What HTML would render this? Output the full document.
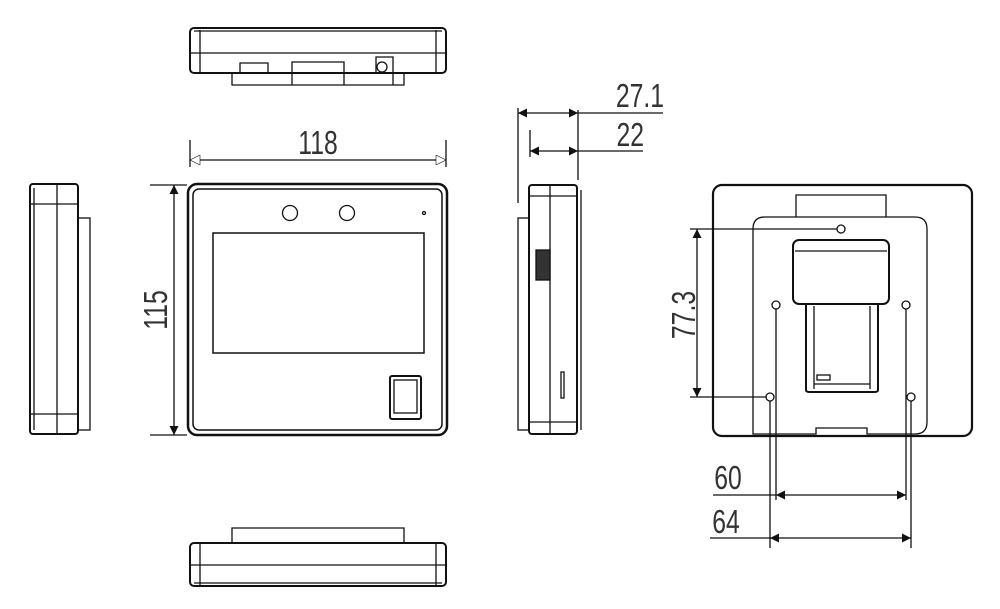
<!DOCTYPE html>
<html><head><style>html,body{margin:0;padding:0;background:#fff}svg{display:block}text{font-family:"Liberation Sans",sans-serif;font-size:33px;fill:#333}</style></head><body>
<svg width="1000" height="609" viewBox="0 0 1000 609" xmlns="http://www.w3.org/2000/svg" fill="none" stroke="#111" stroke-width="1.3">
<defs>
<marker id="af" viewBox="0 0 10 10" refX="10" refY="5" markerWidth="22" markerHeight="9" markerUnits="userSpaceOnUse" orient="auto-start-reverse"><path d="M0,0L10,5L0,10z" fill="#111" stroke="none"/></marker>
<marker id="ao" viewBox="0 0 10 10" refX="10" refY="5" markerWidth="22" markerHeight="10" markerUnits="userSpaceOnUse" orient="auto-start-reverse"><path d="M0,0L10,5L0,10z" fill="#fff" stroke="#111" stroke-width="0.6"/></marker>
</defs>
<!-- top view -->
<rect x="190" y="28" width="256" height="45" rx="4" stroke-width="2"/>
<line x1="194" y1="31" x2="442" y2="31"/>
<line x1="190" y1="53" x2="446" y2="53"/>
<line x1="200" y1="30" x2="200" y2="73"/><line x1="436" y1="30" x2="436" y2="73"/>
<path d="M232 73V85H404V73"/>
<path d="M240 73V63H268V73M292 73V62H344V73M292 85V73M344 85V73M376 73V57H393V85"/>
<circle cx="382" cy="67" r="5"/>
<!-- 118 -->
<line x1="190" y1="140" x2="190" y2="167"/><line x1="446" y1="140" x2="446" y2="167"/>
<line x1="190" y1="160" x2="446" y2="160" marker-start="url(#ao)" marker-end="url(#ao)"/>
<text x="0" y="0" text-anchor="middle" stroke="none" transform="translate(318 154) scale(0.75 1)">118</text>
<!-- left side -->
<rect x="30" y="184" width="48" height="250" rx="3" stroke-width="2"/>
<line x1="34" y1="188" x2="34" y2="430"/>
<line x1="30" y1="204" x2="78" y2="204"/><line x1="30" y1="414" x2="78" y2="414"/>
<line x1="57" y1="184" x2="57" y2="434"/>
<rect x="78" y="218" width="12" height="212"/>
<!-- front -->
<rect x="188" y="184" width="259" height="251" rx="9" stroke-width="2.5"/>
<rect x="193" y="189" width="249" height="241" rx="6" stroke-width="1.5"/>
<rect x="213" y="233" width="211" height="120" stroke-width="1.5"/>
<circle cx="290" cy="213" r="7.5"/><circle cx="347" cy="213" r="7.5"/><circle cx="424" cy="213" r="1.5"/>
<rect x="390" y="376" width="31" height="43" rx="2" stroke-width="2"/>
<rect x="394" y="380" width="23" height="33"/>
<!-- 115 -->
<line x1="150" y1="185" x2="187" y2="185"/><line x1="150" y1="435" x2="187" y2="435"/>
<line x1="174" y1="185" x2="174" y2="435" marker-start="url(#af)" marker-end="url(#af)"/>
<text x="0" y="0" text-anchor="middle" stroke="none" transform="translate(167 310) rotate(-90) scale(0.75 1)">115</text>
<!-- bottom view -->
<rect x="190" y="543" width="256" height="43" rx="4" stroke-width="2"/>
<line x1="190" y1="565" x2="446" y2="565"/><line x1="194" y1="583" x2="442" y2="583"/>
<line x1="200" y1="543" x2="200" y2="586"/><line x1="436" y1="543" x2="436" y2="586"/>
<path d="M232 543V528H404V543"/>
<!-- right side -->
<rect x="529" y="185" width="48" height="249" rx="3" stroke-width="2"/>
<line x1="529" y1="196" x2="577" y2="196"/><line x1="529" y1="422" x2="577" y2="422"/>
<line x1="550" y1="185" x2="550" y2="434"/>
<rect x="518" y="218" width="11" height="212"/>
<line x1="581" y1="190" x2="581" y2="430"/>
<rect x="536" y="250" width="14" height="30" fill="#333"/>
<rect x="561" y="372" width="3" height="26"/>
<!-- 27.1 / 22 -->
<line x1="518" y1="108" x2="518" y2="203"/>
<line x1="578" y1="110" x2="578" y2="180"/>
<line x1="530" y1="130" x2="530" y2="157"/>
<line x1="518" y1="113" x2="548" y2="113" marker-start="url(#af)"/><line x1="548" y1="113" x2="578" y2="113" marker-end="url(#af)"/>
<line x1="578" y1="113" x2="663" y2="113"/>
<line x1="530" y1="151" x2="554" y2="151" marker-start="url(#af)"/><line x1="554" y1="151" x2="578" y2="151" marker-end="url(#af)"/>
<line x1="578" y1="151" x2="643" y2="151"/>
<text x="0" y="0" text-anchor="end" stroke="none" transform="translate(664 107) scale(0.75 1)">27.1</text>
<text x="0" y="0" text-anchor="end" stroke="none" transform="translate(644 146) scale(0.75 1)">22</text>
<!-- back view -->
<rect x="713" y="185" width="259" height="251" rx="9" stroke-width="2.2"/>
<path d="M796 217V195H886V217"/>
<path d="M767 434H753V229Q753 217 765 217H915Q927 217 927 229V422Q927 434 915 434H867V428H816V434H767"/>
<circle cx="841" cy="229" r="4"/><circle cx="776" cy="305" r="4"/><circle cx="906" cy="305" r="4"/><circle cx="770" cy="397" r="4"/><circle cx="911" cy="397" r="4"/>
<rect x="793" y="240" width="96" height="64" rx="6" stroke-width="2"/>
<line x1="795" y1="251" x2="887" y2="251"/>
<path d="M806 304V390Q806 392 810 392H874Q878 392 878 390V304" stroke-width="2"/>
<path d="M814 306V389M870 306V389M814 384H870"/>
<rect x="817" y="375" width="13" height="5"/>
<!-- 77.3 -->
<line x1="690" y1="229" x2="837" y2="229"/><line x1="690" y1="397" x2="766" y2="397"/>
<line x1="697" y1="229" x2="697" y2="397" marker-start="url(#af)" marker-end="url(#af)"/>
<text x="0" y="0" text-anchor="middle" stroke="none" transform="translate(695 315) rotate(-90) scale(0.75 1)">77.3</text>
<!-- 60 / 64 -->
<line x1="776" y1="309" x2="776" y2="500"/><line x1="906" y1="309" x2="906" y2="500"/>
<line x1="770" y1="401" x2="770" y2="548"/><line x1="911" y1="401" x2="911" y2="548"/>
<line x1="713" y1="495" x2="776" y2="495"/>
<line x1="776" y1="495" x2="841" y2="495" marker-start="url(#af)"/><line x1="841" y1="495" x2="906" y2="495" marker-end="url(#af)"/>
<line x1="710" y1="538" x2="770" y2="538"/>
<line x1="770" y1="538" x2="840" y2="538" marker-start="url(#af)"/><line x1="840" y1="538" x2="911" y2="538" marker-end="url(#af)"/>
<text x="0" y="0" text-anchor="middle" stroke="none" transform="translate(728 489) scale(0.75 1)">60</text>
<text x="0" y="0" text-anchor="middle" stroke="none" transform="translate(726 533) scale(0.75 1)">64</text>
</svg>
</body></html>
